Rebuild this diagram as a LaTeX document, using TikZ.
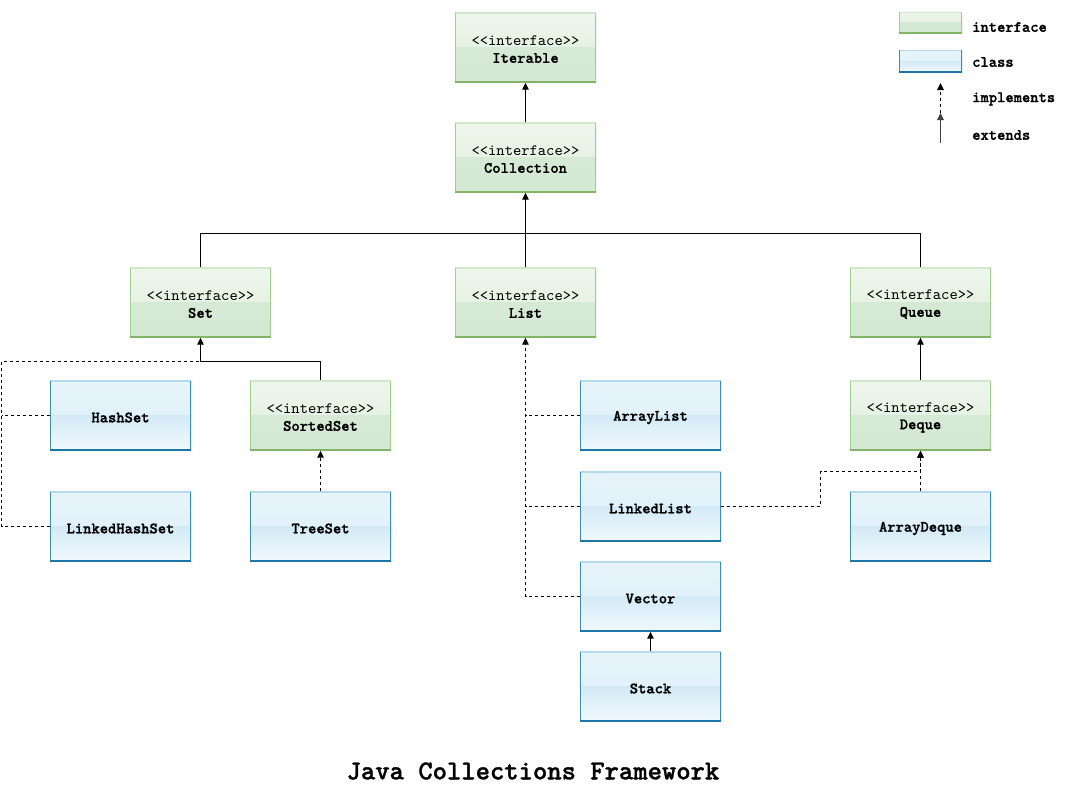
\documentclass[tikz,border=0pt]{standalone}
\usepackage{fontspec}
\setmonofont{lmmono10-regular.otf}[BoldFont=lmmonolt10-bold.otf, BoldFeatures={FakeBold=1.2}]
\usetikzlibrary{arrows.meta}

% fill and border colours of the glossy boxes
\definecolor{ifTopA}{HTML}{EEF6EC}
\definecolor{ifTopB}{HTML}{DDEDD9}
\definecolor{ifLowA}{HTML}{D6E9D4}
\definecolor{ifLowB}{HTML}{D5E8D4}
\definecolor{ifEdgeTop}{HTML}{D2E7CB}
\definecolor{ifEdgeSide}{HTML}{A3CD91}
\definecolor{ifEdgeBot}{HTML}{82B366}
\definecolor{clTopA}{HTML}{E7F4FA}
\definecolor{clTopB}{HTML}{DDF0F9}
\definecolor{clLowA}{HTML}{D3EAF6}
\definecolor{clLowB}{HTML}{F1F9FD}
\definecolor{clEdgeTop}{HTML}{B5DAEC}
\definecolor{clEdgeSide}{HTML}{3A8CBA}
\definecolor{clEdgeBot}{HTML}{1F76A6}

\tikzset{
  glass/.style n args={7}{
    path picture={
      \shade[top color=#1, bottom color=#2]
        (path picture bounding box.north west) rectangle (path picture bounding box.east);
      \shade[top color=#3, bottom color=#4]
        (path picture bounding box.west) rectangle (path picture bounding box.south east);
      \draw[#5, line width=2.6pt]
        (path picture bounding box.north west) -- (path picture bounding box.north east);
      \draw[#6, line width=2.6pt]
        (path picture bounding box.north west) -- (path picture bounding box.south west)
        (path picture bounding box.north east) -- (path picture bounding box.south east);
      \draw[#7, line width=2.6pt]
        (path picture bounding box.south west) -- (path picture bounding box.south east);
    }
  },
  boxbase/.style={rectangle, inner sep=0pt, minimum width=141pt, minimum height=70pt},
  boxtext/.style={align=center, inner sep=0pt, yshift=-2pt,
    font=\fontsize{15.8}{17}\selectfont\ttfamily},
  ifbox/.style={boxbase, glass={ifTopA}{ifTopB}{ifLowA}{ifLowB}{ifEdgeTop}{ifEdgeSide}{ifEdgeBot},
    label={[boxtext]center:{\mdseries\textless\textless interface\textgreater\textgreater\\\textbf{#1}}}},
  clbox/.style={boxbase, glass={clTopA}{clTopB}{clLowA}{clLowB}{clEdgeTop}{clEdgeSide}{clEdgeBot},
    label={[boxtext]center:{\textbf{#1}}}},
  legendlabel/.style={anchor=west, inner sep=0pt, font=\fontsize{15.8}{17}\selectfont\ttfamily\bfseries},
  conn/.style={line width=1pt, black},
  ext/.style={conn, -{Triangle[length=7pt,width=6.5pt]}},
  impl/.style={conn, dash pattern=on 3pt off 3pt},
  implarrow/.style={impl, -{Triangle[length=7pt,width=6.5pt]}}
}

\begin{document}
\begin{tikzpicture}[x=1pt, y=-1pt]
  \useasboundingbox[fill=white] (0,0) rectangle (1072,793);

  % interfaces
  \node[ifbox=Iterable]   (iter)   at (525.5,47.5)  {};
  \node[ifbox=Collection] (coll)   at (525.5,157.5) {};
  \node[ifbox=Set]        (set)    at (200.5,302.5) {};
  \node[ifbox=List]       (list)   at (525.5,302.5) {};
  \node[ifbox=Queue]      (queue)  at (920.5,302.5) {};
  \node[ifbox=SortedSet]  (sorted) at (320.5,415.5) {};
  \node[ifbox=Deque]      (deque)  at (920.5,415.5) {};

  % classes
  \node[clbox=HashSet]       (hashset)    at (120.5,415.5) {};
  \node[clbox=LinkedHashSet] (lhashset)   at (120.5,526.5) {};
  \node[clbox=TreeSet]       (treeset)    at (320.5,526.5) {};
  \node[clbox=ArrayList]     (arraylist)  at (650.5,415.5) {};
  \node[clbox=LinkedList]    (linkedlist) at (650.5,506.5) {};
  \node[clbox=Vector]        (vector)     at (650.5,596.5) {};
  \node[clbox=Stack]         (stack)      at (650.5,686.5) {};
  \node[clbox=ArrayDeque]    (arraydeque) at (920.5,526.5) {};

  % routing points
  \coordinate (bus)      at (525.5,233.5);
  \coordinate (setjoin)  at (200.5,361.5);
  \coordinate (leftrail) at (1.5,361.5);
  \coordinate (llbend)   at (820.5,471.5);

  % extends
  \draw[ext] (coll.north) -- (iter.south);
  \draw[ext] (list.north) -- (coll.south);
  \draw[conn] (set.north) |- (bus) -| (queue.north);
  \draw[ext] (sorted.north) |- (setjoin) -- (set.south);
  \draw[ext] (stack.north) -- (vector.south);
  \draw[ext] (deque.north) -- (queue.south);

  % implements
  \draw[impl] (lhashset.west) -| (leftrail) -- (setjoin);
  \draw[impl] (hashset.west) -- (hashset.west -| leftrail);
  \draw[implarrow] (treeset.north) -- (sorted.south);
  \draw[implarrow] (vector.west) -| (list.south);
  \draw[impl] (arraylist.west) -- (arraylist.west -| list.south);
  \draw[impl] (linkedlist.west) -- (linkedlist.west -| list.south);
  \draw[implarrow] (linkedlist.east) -| (llbend) -| (deque.south);
  \draw[implarrow] (arraydeque.north) -- (deque.south);

  % legend
  \node[boxbase, minimum width=63pt, minimum height=21pt,
        glass={ifTopA}{ifTopB}{ifLowA}{ifLowB}{ifEdgeTop}{ifEdgeSide}{ifEdgeBot}] (lgif) at (930.5,22.5) {};
  \node[boxbase, minimum width=63pt, minimum height=22pt,
        glass={clTopA}{clTopB}{clLowA}{clLowB}{clEdgeTop}{clEdgeSide}{clEdgeBot}] (lgcl) at (930.5,61) {};
  \node[legendlabel] (lgiftext) at (972,27)  {interface};
  \node[legendlabel] (lgcltext) at (972,62)  {class};
  \node[legendlabel] (lgimtext) at (972,99)  {implements};
  \node[legendlabel] (lgextext) at (972,135) {extends};
  \coordinate (lgimtop) at (940.5,83);
  \coordinate (lgmid)   at (940.5,113);
  \coordinate (lgexbot) at (940.5,143);
  \draw[implarrow] (lgmid) -- (lgimtop);
  \draw[ext, black!75] (lgexbot) -- (lgmid);

  % title
  \node[font=\fontsize{27.3}{30}\selectfont\ttfamily\bfseries] (title) at (533,771) {Java Collections Framework};
\end{tikzpicture}
\end{document}
